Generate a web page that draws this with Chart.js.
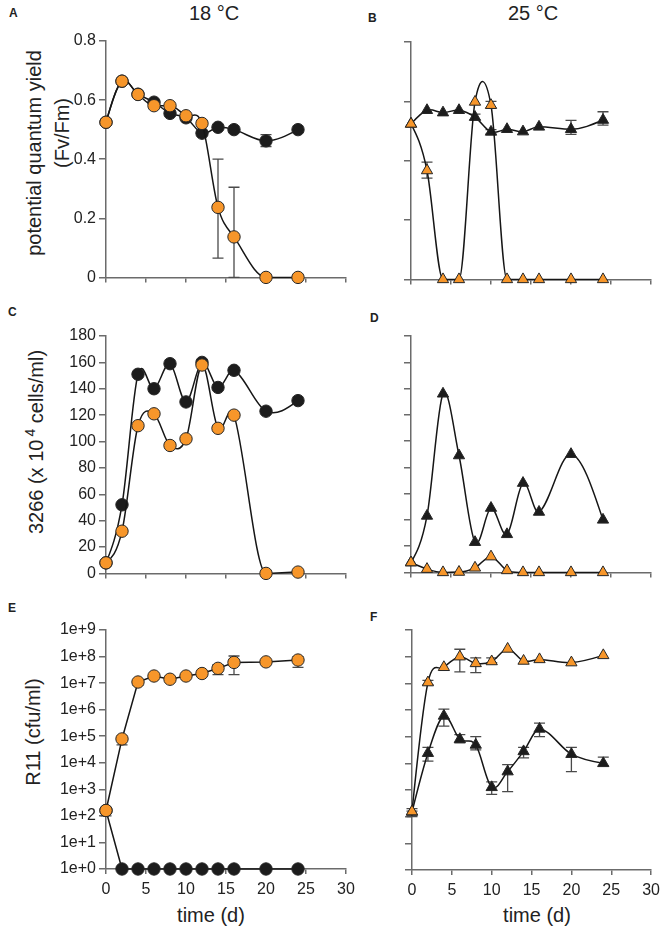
<!DOCTYPE html>
<html><head><meta charset="utf-8">
<script src="https://cdn.jsdelivr.net/npm/chart.js@4.4.1/dist/chart.umd.min.js"></script>
<style>
html,body{margin:0;padding:0;background:#fff;overflow:hidden}
#root{position:relative;width:666px;height:932px;font-family:"Liberation Sans",Arial,Helvetica,sans-serif;color:#222;background:#fff}
canvas{position:absolute}
.t{position:absolute;white-space:nowrap;line-height:1}
.c{transform:translate(-50%,-50%)}
.rot{transform:translate(-50%,-50%) rotate(-90deg)}
.lt{font-weight:bold;font-size:12px}
</style></head><body><div id="root">
<div class="t lt" style="left:9px;top:7px">A</div>
<div class="t lt" style="left:368px;top:12px">B</div>
<div class="t lt" style="left:8px;top:306px">C</div>
<div class="t lt" style="left:370px;top:312px">D</div>
<div class="t lt" style="left:8px;top:602px">E</div>
<div class="t lt" style="left:370px;top:611px">F</div>
<div class="t c" style="left:214px;top:13px;font-size:20px">18 °C</div>
<div class="t c" style="left:533px;top:13px;font-size:20px">25 °C</div>
<div class="t rot" style="left:34px;top:153px;font-size:20px">potential quantum yield</div>
<div class="t rot" style="left:62px;top:133px;font-size:20px">(Fv/Fm)</div>
<div class="t rot" style="left:34px;top:442px;font-size:20px">3266 (x 10<sup style="font-size:14px;margin-left:3px;vertical-align:8px">4</sup> cells/ml)</div>
<div class="t rot" style="left:33px;top:732px;font-size:20px">R11 (cfu/ml)</div>
<div class="t c" style="left:211px;top:915px;font-size:20px">time (d)</div>
<div class="t c" style="left:537px;top:915px;font-size:20px">time (d)</div>
<canvas id="cA" width="321" height="265" style="left:40px;top:25px"></canvas>
<canvas id="cB" width="321" height="266" style="left:345px;top:26px"></canvas>
<canvas id="cC" width="321" height="266" style="left:40px;top:320px"></canvas>
<canvas id="cD" width="321" height="265" style="left:345px;top:320px"></canvas>
<canvas id="cE" width="321" height="295" style="left:40px;top:614px"></canvas>
<canvas id="cF" width="320" height="296" style="left:346px;top:614px"></canvas>
</div>
<script>
// ---------- data ----------
const days = [0, 2, 4, 6, 8, 10, 12, 14, 16, 20, 24];
const xTickLabels = ['0', '5', '10', '15', '20', '25', '30'];
const yTicksFv = ['0', '0.2', '0.4', '0.6', '0.8'];
const yTicksCells = ['0', '20', '40', '60', '80', '100', '120', '140', '160', '180'];
const yTicksLogValues = [1, 1e1, 1e2, 1e3, 1e4, 1e5, 1e6, 1e7, 1e8, 1e9];
const yTicksLog = ['1e+0', '1e+1', '1e+2', '1e+3', '1e+4', '1e+5', '1e+6', '1e+7', '1e+8', '1e+9'];

// A: Fv/Fm at 18 °C
const fv18Axenic = [0.525, 0.664, 0.62, 0.593, 0.555, 0.54, 0.488, 0.508, 0.50, 0.462, 0.50];
const fv18R11 = [0.525, 0.664, 0.619, 0.581, 0.581, 0.547, 0.521, 0.237, 0.137, 0, 0];
const fv18AxenicErrLow = [null, null, null, null, null, null, null, null, null, 0.443, null];
const fv18AxenicErrHigh = [null, null, null, null, null, null, null, null, null, 0.483, null];
const fv18R11ErrLow = [null, null, null, null, null, null, null, 0.065, 0, null, null];
const fv18R11ErrHigh = [null, null, null, null, null, null, null, 0.40, 0.305, null, null];

// B: Fv/Fm at 25 °C
const fv25Axenic = [0.524, 0.57, 0.562, 0.57, 0.547, 0.497, 0.506, 0.498, 0.514, 0.506, 0.537];
const fv25R11 = [0.524, 0.367, 0, 0, 0.598, 0.587, 0, 0, 0, 0, 0];
const fv25AxenicErrLow = [null, null, null, null, 0.537, 0.49, null, null, null, 0.489, 0.52];
const fv25AxenicErrHigh = [null, null, null, null, 0.557, 0.505, null, null, null, 0.536, 0.565];
const fv25R11ErrLow = [null, 0.341, null, null, null, 0.578, null, null, null, null, null];
const fv25R11ErrHigh = [null, 0.395, null, null, null, 0.6, null, null, null, null, null];

// C: 3266 cells at 18 °C (x 10^4 cells/ml)
const cells18Axenic = [8, 52, 151, 140, 159, 130, 160, 141, 154, 123, 131];
const cells18R11 = [8, 32, 112, 121, 97, 102, 158, 110, 120, 0, 1];

// D: 3266 cells at 25 °C
const cells25Axenic = [7.5, 43, 136, 89, 23, 49, 29, 68, 46, 90, 40];
const cells25R11 = [7.5, 2.5, 0, 0.3, 3.5, 12, 1.5, 0, 0, 0, 0];

// E: R11 cfu/ml at 18 °C
const cfu18Axenic = [160, 1, 1, 1, 1, 1, 1, 1, 1, 1, 1];
const cfu18R11 = [160, 7.9e4, 1.1e7, 1.85e7, 1.4e7, 1.85e7, 2.3e7, 3.6e7, 6e7, 6.3e7, 7.4e7];
const cfu18R11ErrLow = [100, 4.7e4, 8.5e6, null, null, null, null, 2.1e7, 2.1e7, null, 3.9e7];
const cfu18R11ErrHigh = [200, 1e5, 1.3e7, null, null, null, null, 5e7, 1.05e8, null, 1e8];

// F: R11 cfu/ml at 25 °C
const cfu25Axenic = [150, 2.4e4, 6e5, 8e4, 4.9e4, 1.26e3, 4.9e3, 2.8e4, 1.95e5, 2.2e4, 1e4];
const cfu25R11 = [155, 1.07e7, 4e7, 1e8, 5.6e7, 6.6e7, 1.95e8, 6.9e7, 7.9e7, 6e7, 1.12e8];
const cfu25AxenicErrLow = [100, 1.2e4, 2.5e5, 5.9e4, 3.2e4, 690, 870, 1.6e4, 1e5, 4.9e3, 8e3];
const cfu25AxenicErrHigh = [160, 4e4, 1.07e6, 1.2e5, 1e5, 2e3, 9e3, 4e4, 3.2e5, 4e4, 1.7e4];
const cfu25R11ErrLow = [120, 9e6, null, 2.7e7, 2.5e7, 6e7, null, null, null, null, null];
const cfu25R11ErrHigh = [200, 1.3e7, null, 1.9e8, 9e7, 9e7, null, null, null, null, null];

// ---------- styling / plugins ----------
const ORANGE = '#F7962A';
const BLACK = '#1c1c1c';
const AXIS = '#6b6b6b';
Chart.defaults.font.family = '"Liberation Sans", Arial, Helvetica, sans-serif';
Chart.defaults.font.size = 16;
Chart.defaults.color = '#222';

// smooth curve through the library-computed point positions (flat runs stay flat)
const hermitePlugin = {
  id: 'hermite',
  beforeDatasetDraw(chart, args, opts) {
    if (!opts || !opts.enabled) return;
    const meta = args.meta;
    const line = meta.dataset;
    const pts = meta.data;
    if (!line || pts.length < 3) return;
    if (line.updateControlPoints) line.updateControlPoints(chart.chartArea, 'x');
    const n = pts.length;
    const d = [];
    for (let i = 0; i < n - 1; i++) d[i] = (pts[i + 1].y - pts[i].y) / (pts[i + 1].x - pts[i].x);
    const flat = v => Math.abs(v) < 0.08;
    const m = new Array(n);
    for (let i = 1; i < n - 1; i++) {
      m[i] = (pts[i + 1].y - pts[i - 1].y) / (pts[i + 1].x - pts[i - 1].x);
      if (flat(d[i - 1]) || flat(d[i])) m[i] = 0;
    }
    m[0] = flat(d[0]) ? 0 : (3 * d[0] - m[1]) / 2;
    m[n - 1] = flat(d[n - 2]) ? 0 : (3 * d[n - 2] - m[n - 2]) / 2;
    for (let i = 0; i < n; i++) {
      const p = pts[i];
      const hp = i > 0 ? (p.x - pts[i - 1].x) / 3 : 0;
      const hn = i < n - 1 ? (pts[i + 1].x - p.x) / 3 : 0;
      p.cp1x = p.x - hp; p.cp1y = p.y - m[i] * hp;
      p.cp2x = p.x + hn; p.cp2y = p.y + m[i] * hn;
    }
    line._pointsUpdated = true;
    line._path = undefined;
  }
};

const errorBarPlugin = {
  id: 'errbars',
  beforeDatasetsDraw(chart) {
    const ctx = chart.ctx;
    const xs = chart.scales.x, ys = chart.scales.y;
    chart.data.datasets.forEach(ds => {
      if (!ds.errLow) return;
      ctx.save();
      ctx.strokeStyle = '#4a4a4a';
      ctx.lineWidth = 1.3;
      ds.errLow.forEach((lo, i) => {
        const hi = ds.errHigh[i];
        if (lo == null || hi == null) return;
        const x = xs.getPixelForValue(days[i]);
        const y1 = ys.getPixelForValue(lo), y2 = ys.getPixelForValue(hi);
        ctx.beginPath();
        ctx.moveTo(x, y1); ctx.lineTo(x, y2);
        ctx.moveTo(x - 5.5, y1); ctx.lineTo(x + 5.5, y1);
        ctx.moveTo(x - 5.5, y2); ctx.lineTo(x + 5.5, y2);
        ctx.stroke();
      });
      ctx.restore();
    });
  }
};

function series(values, marker, fill, errLow, errHigh, spline) {
  return {
    data: days.map((d, i) => ({x: d, y: values[i]})),
    errLow: errLow, errHigh: errHigh,
    borderColor: '#161616', borderWidth: 1.5,
    pointStyle: marker,
    pointRadius: marker === 'triangle' ? 6.5 : 6.2,
    pointBackgroundColor: fill,
    pointBorderColor: '#262626',
    pointBorderWidth: 1,
    tension: spline ? 0.4 : 0,
    fill: false,
    clip: false
  };
}

function panel(id, p) {
  const yScale = {
    type: p.log ? 'logarithmic' : 'linear',
    min: p.yMin, max: p.yMax,
    afterFit: s => { s.width = 66; },
    grid: {drawOnChartArea: false, drawTicks: true, tickLength: 7, color: AXIS, lineWidth: 1.5},
    border: {display: true, color: AXIS, width: 1.5},
    ticks: {
      autoSkip: false, padding: 3, color: '#222', font: {size: 16},
      callback: (v, i) => p.yLabels ? p.yLabels[i] : ''
    }
  };
  if (p.log) {
    yScale.afterBuildTicks = s => { s.ticks = yTicksLogValues.map(v => ({value: v})); };
  } else {
    yScale.ticks.stepSize = p.yStep;
  }
  return new Chart(document.getElementById(id), {
    type: 'line',
    data: {datasets: p.datasets},
    plugins: [hermitePlugin, errorBarPlugin],
    options: {
      responsive: false,
      animation: false,
      events: [],
      layout: {padding: {top: 16, right: p.padRight || 15, left: 0, bottom: 0}},
      plugins: {legend: {display: false}, tooltip: {enabled: false}, hermite: {enabled: p.spline}},
      scales: {
        x: {
          type: 'linear', min: 0, max: 30,
          afterFit: s => { s.height = p.xLabels ? 40 : 10; },
          grid: {drawOnChartArea: false, drawTicks: true, tickLength: 5, color: AXIS, lineWidth: 1.5},
          border: {display: true, color: AXIS, width: 1.5},
          ticks: {
            stepSize: 5, autoSkip: false, maxRotation: 0, padding: 6, color: '#222', font: {size: 16},
            callback: (v, i) => p.xLabels ? xTickLabels[i] : ''
          }
        },
        y: yScale
      }
    }
  });
}

panel('cA', {yMin: 0, yMax: 0.8, yStep: 0.2, yLabels: yTicksFv, spline: true, datasets: [
  series(fv18R11, 'circle', ORANGE, fv18R11ErrLow, fv18R11ErrHigh, true),
  series(fv18Axenic, 'circle', BLACK, fv18AxenicErrLow, fv18AxenicErrHigh, true)
]});
panel('cB', {yMin: 0, yMax: 0.8, yStep: 0.2, yLabels: null, spline: true, datasets: [
  series(fv25R11, 'triangle', ORANGE, fv25R11ErrLow, fv25R11ErrHigh, true),
  series(fv25Axenic, 'triangle', BLACK, fv25AxenicErrLow, fv25AxenicErrHigh, true)
]});
panel('cC', {yMin: 0, yMax: 180, yStep: 20, yLabels: yTicksCells, spline: true, datasets: [
  series(cells18R11, 'circle', ORANGE, null, null, true),
  series(cells18Axenic, 'circle', BLACK, null, null, true)
]});
panel('cD', {yMin: 0, yMax: 180, yStep: 20, yLabels: null, spline: true, datasets: [
  series(cells25R11, 'triangle', ORANGE, null, null, true),
  series(cells25Axenic, 'triangle', BLACK, null, null, true)
]});
panel('cE', {log: true, yMin: 1, yMax: 1e9, yLabels: yTicksLog, xLabels: true, spline: false, datasets: [
  series(cfu18R11, 'circle', ORANGE, cfu18R11ErrLow, cfu18R11ErrHigh, false),
  series(cfu18Axenic, 'circle', BLACK, null, null, false)
]});
panel('cF', {log: true, yMin: 1, yMax: 1e9, yLabels: null, xLabels: true, spline: true, padRight: 14, datasets: [
  series(cfu25R11, 'triangle', ORANGE, cfu25R11ErrLow, cfu25R11ErrHigh, true),
  series(cfu25Axenic, 'triangle', BLACK, cfu25AxenicErrLow, cfu25AxenicErrHigh, true)
]});
</script>
</body></html>
